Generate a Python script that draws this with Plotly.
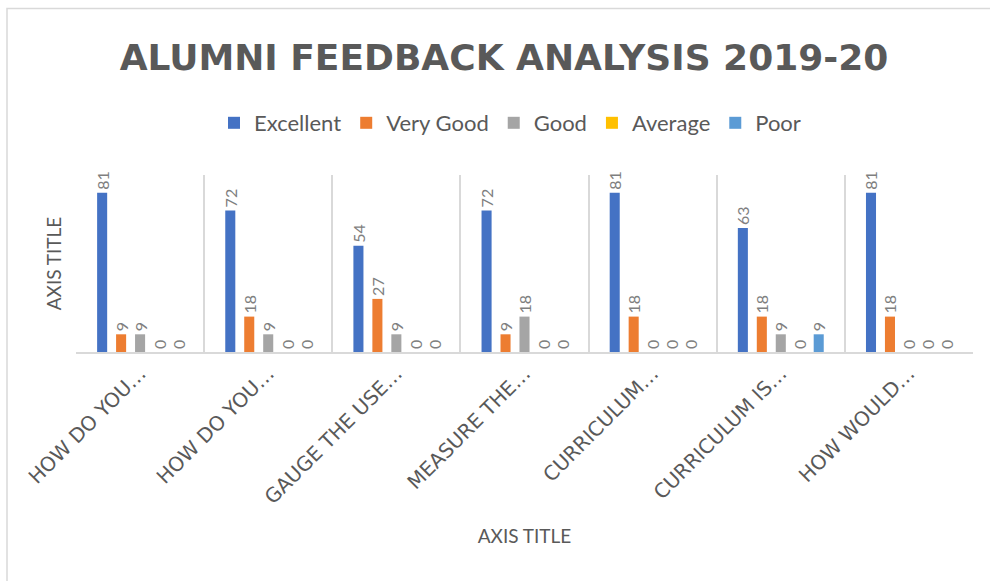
import plotly.graph_objects as go

categories = ["HOW DO YOU…", "HOW DO YOU…", "GAUGE THE USE…", "MEASURE THE…",
              "CURRICULUM…", "CURRICULUM IS…", "HOW WOULD…"]
excellent = [81, 72, 54, 72, 81, 63, 81]
very_good = [9, 18, 27, 9, 18, 18, 18]
good = [9, 9, 9, 18, 0, 9, 0]
average = [0, 0, 0, 0, 0, 0, 0]
poor = [0, 0, 0, 0, 0, 9, 0]

series = [("Excellent", excellent, "#4472C4"),
          ("Very Good", very_good, "#ED7D31"),
          ("Good", good, "#A5A5A5"),
          ("Average", average, "#FFC000"),
          ("Poor", poor, "#5B9BD5")]

xpos = list(range(len(categories)))

fig = go.Figure()
for name, vals, color in series:
    fig.add_trace(go.Bar(
        x=xpos, y=vals, name=name, marker=dict(color=color, line=dict(width=0)),
        text=[str(v) for v in vals], textposition="outside", textangle=-90,
        constraintext="none", cliponaxis=False,
        textfont=dict(family="Lato", size=16, color="#7F7F7F"),
    ))

W, H = 990, 581
L, R, T, B = 76, 17, 175, 229
ph = H - T - B
pw = W - L - R

fig.update_layout(
    width=W, height=H, autosize=False,
    margin=dict(l=L, r=R, t=T, b=B, autoexpand=False),
    paper_bgcolor="white", plot_bgcolor="white",
    barmode="group", bargap=0.26, bargroupgap=0.47,
    title=dict(text="ALUMNI FEEDBACK ANALYSIS 2019-20",
               font=dict(family="DejaVu Sans", size=36, color="#595959", weight=700),
               x=504 / W, xanchor="center", xref="container",
               y=1 - 57 / H, yanchor="middle", yref="container"),
    legend=dict(orientation="h", x=(510 - L) / pw, xanchor="center",
                y=(H - B - 123) / ph, yanchor="middle",
                font=dict(family="Lato", size=22, color="#595959"),
                traceorder="normal", itemclick=False),
    xaxis=dict(
        range=[-0.5, len(categories) - 0.5],
        tickmode="array", tickvals=xpos, ticktext=categories,
        tickangle=-45, ticks="", showgrid=False, zeroline=False,
        showline=True, linecolor="#D9D9D9", linewidth=1.5,
        tickfont=dict(family="DejaVu Sans", size=20, color="#595959"),
        minor=dict(tick0=0.5, dtick=1, showgrid=True, gridcolor="#D9D9D9",
                   gridwidth=1.5, ticks=""),
        title=dict(text="AXIS TITLE", standoff=22,
                   font=dict(family="Lato", size=19, color="#595959")),
        automargin=False,
    ),
    yaxis=dict(
        range=[0, 90], showticklabels=False, ticks="", showgrid=False,
        zeroline=False, showline=False,
        title=dict(text="AXIS TITLE", standoff=8,
                   font=dict(family="Lato", size=19, color="#595959")),
        automargin=False,
    ),
    shapes=[dict(type="rect", xref="paper", yref="paper",
                 x0=(7 - L) / pw, x1=1.2, y0=-2.0, y1=(H - B - 8.5) / ph,
                 line=dict(color="#D9D9D9", width=1.5), fillcolor="rgba(0,0,0,0)",
                 layer="below")],
)

fig.write_html("out.html", config={"displayModeBar": False},
               post_script="document.body.style.margin='0';")
